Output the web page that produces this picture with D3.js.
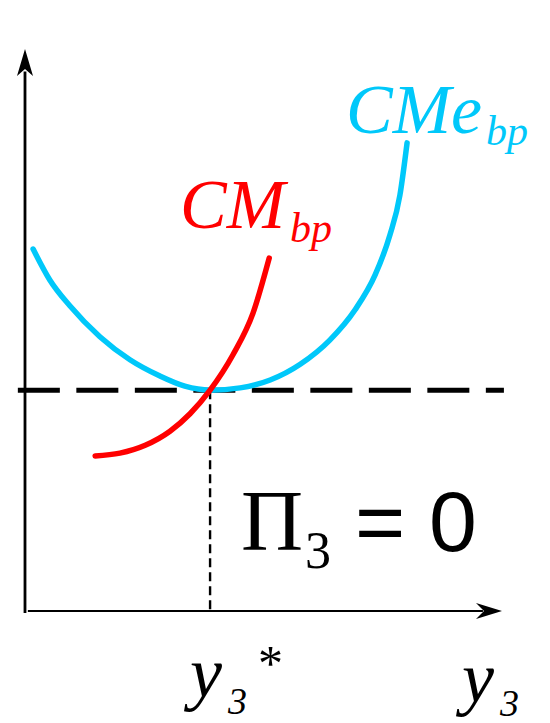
<!DOCTYPE html>
<html>
<head>
<meta charset="utf-8">
<script src="https://cdn.jsdelivr.net/npm/d3@7"></script>
</head>
<body style="margin:0">
<svg id="chart" width="550" height="723"></svg>
<script>
// Average cost (CMe_bp) and marginal cost (CM_bp) curves, in arbitrary units
const cmeX = [1.7, 5.2, 9.4, 15.7, 22.0, 28.3, 33.5, 38.8, 45.1, 51.4, 57.7, 63.9, 69.2, 73.4, 76.5, 78.6, 80.1];
const cmeY = [64.4, 58.9, 54.3, 48.8, 44.7, 41.8, 40.0, 39.3, 39.7, 41.1, 43.9, 48.2, 53.6, 59.8, 66.9, 74.0, 83.3];
const cmX = [14.7, 19.9, 25.2, 30.4, 34.6, 38.8, 43.6, 47.8, 51.2];
const cmY = [27.6, 28.1, 29.5, 32.0, 35.1, 39.3, 45.6, 53.0, 62.8];

// Zero-profit output and price level
const yStar = 38.8;
const priceLevel = 39.3;
const priceLineExtent = [-1.5, 100.4];

const svg = d3.select("#chart");

const x = d3.scaleLinear().domain([0, 100]).range([25, 502]);
const y = d3.scaleLinear().domain([0, 100]).range([611, 49]);

const cyan = "#00c8fa";
const red = "#ff0000";

const line = d3.line()
  .x(d => x(d[0]))
  .y(d => y(d[1]))
  .curve(d3.curveMonotoneX);

// Axes with arrowheads
svg.append("line")
  .attr("x1", x(0)).attr("y1", y(-0.35))
  .attr("x2", x(0)).attr("y2", y(96))
  .attr("stroke", "#000").attr("stroke-width", 2.8);
svg.append("line")
  .attr("x1", x(0.6)).attr("y1", y(0))
  .attr("x2", x(96)).attr("y2", y(0))
  .attr("stroke", "#000").attr("stroke-width", 2.2);

const ax = x(0), ay = y(100);
svg.append("path")
  .attr("d", `M${ax},${ay} L${ax + 8},${ay + 27} L${ax},${ay + 20} L${ax - 8},${ay + 27} Z`)
  .attr("fill", "#000");
const bx = x(100), by = y(0);
svg.append("path")
  .attr("d", `M${bx},${by} L${bx - 26},${by - 8} L${bx - 18},${by} L${bx - 26},${by + 8} Z`)
  .attr("fill", "#000");

// Zero-profit price line and equilibrium output drop line
svg.append("line")
  .attr("x1", x(priceLineExtent[0])).attr("y1", y(priceLevel))
  .attr("x2", x(priceLineExtent[1])).attr("y2", y(priceLevel))
  .attr("stroke", "#000").attr("stroke-width", 5)
  .attr("stroke-dasharray", "42,16.5");
svg.append("line")
  .attr("x1", x(yStar)).attr("y1", y(priceLevel))
  .attr("x2", x(yStar)).attr("y2", y(0))
  .attr("stroke", "#000").attr("stroke-width", 2.4)
  .attr("stroke-dasharray", "9,5");

// Cost curves
svg.append("path")
  .datum(d3.zip(cmeX, cmeY))
  .attr("d", line)
  .attr("fill", "none").attr("stroke", cyan)
  .attr("stroke-width", 5.5).attr("stroke-linecap", "round");
svg.append("path")
  .datum(d3.zip(cmX, cmY))
  .attr("d", line)
  .attr("fill", "none").attr("stroke", red)
  .attr("stroke-width", 5.5).attr("stroke-linecap", "round");

// One text element per piece, with its font pinned on the element
function txt(px, py, str, family, size, italic, color) {
  return svg.append("text")
    .attr("x", px).attr("y", py)
    .attr("font-family", family)
    .style("font-family", `"${family}"`, "important")
    .style("font-style", italic ? "italic" : "normal", "important")
    .style("font-size", size + "px", "important")
    .style("fill", color || "#000")
    .text(str);
}

// Curve labels
txt(346, 133, "CMe", "Liberation Serif", 70, true, cyan);
txt(486, 145, "bp", "Liberation Serif", 42, true, cyan);
txt(180, 228, "CM", "Liberation Serif", 70, true, red);
txt(290, 242, "bp", "Liberation Serif", 42, true, red);

// Zero profit annotation
txt(241, 550, "Π", "Liberation Serif", 86, false);
txt(305, 568, "3", "Liberation Serif", 52, false);
txt(355, 551, "= 0", "Liberation Sans", 86, false);

// Axis labels
txt(x(yStar) - 20, 697, "y", "Liberation Serif", 72, true);
txt(x(yStar) + 18, 714, "3", "Liberation Serif", 38, true);
txt(258, 680, "*", "Liberation Serif", 50, false);
txt(462, 702, "y", "Liberation Serif", 72, true);
txt(500, 716, "3", "Liberation Serif", 38, true);
</script>
</body>
</html>
